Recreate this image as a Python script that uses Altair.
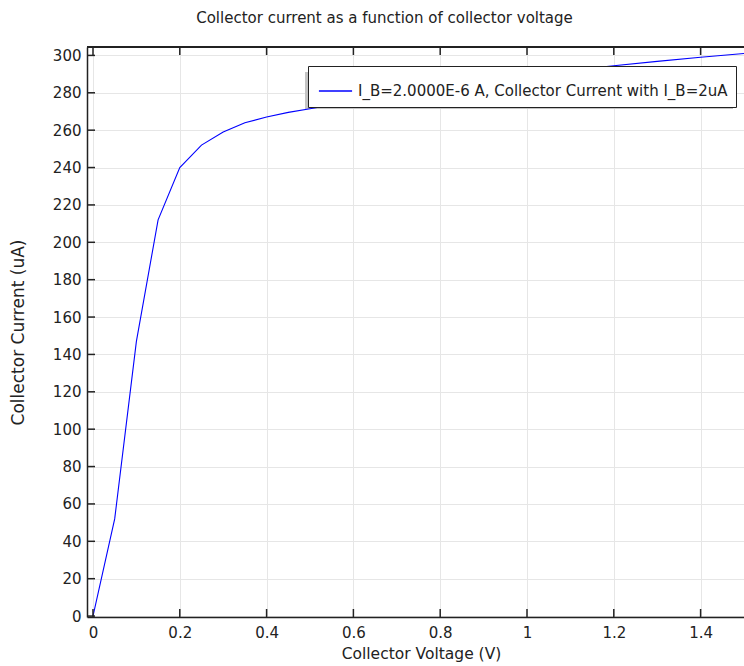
import altair as alt
import pandas as pd

# Data
voltage = [0.0, 0.05, 0.10, 0.15, 0.20, 0.25, 0.30, 0.35, 0.40, 0.45, 0.50,
           0.60, 0.70, 0.80, 0.90, 1.00, 1.10, 1.20, 1.30, 1.40, 1.50]
current = [0.0, 52.0, 147.0, 212.0, 240.0, 252.0, 259.0, 264.0, 267.0, 269.5, 271.5,
           275.5, 279.5, 283.0, 286.5, 289.5, 292.0, 294.5, 296.8, 299.0, 301.0]
series_name = "I_B=2.0000E-6 A, Collector Current with I_B=2uA"

x_ticks = [0, 0.2, 0.4, 0.6, 0.8, 1.0, 1.2, 1.4]
y_ticks = list(range(0, 301, 20))

W, H = 657, 570
FONT = "DejaVu Sans"
TXT = "#222222"

df = pd.DataFrame({"V": voltage, "I": current, "series": [series_name] * len(voltage)})
xt = pd.DataFrame({"v": x_ticks})
yt = pd.DataFrame({"v": y_ticks})

xscale = alt.Scale(domain=[-0.0138, 1.5], nice=False, zero=False)
yscale = alt.Scale(domain=[-0.5, 304.5], nice=False, zero=False)

xaxis = alt.Axis(values=x_ticks, format="~g", title="Collector Voltage (V)",
                 ticks=False, labelPadding=8, titlePadding=6, titleX=334,
                 labelOverlap=False, titleFontSize=15.5,
                 domainColor=TXT, domainWidth=1.5, grid=True, gridColor="#e6e6e6")
yaxis = alt.Axis(values=y_ticks, title="Collector Current (uA)",
                 ticks=False, labelPadding=6, titlePadding=25,
                 labelOverlap=False, titleFontSize=17,
                 domainColor=TXT, domainWidth=1.5, grid=True, gridColor="#e6e6e6")

line = alt.Chart(df).mark_line(strokeWidth=1.1, clip=True).encode(
    x=alt.X("V:Q", scale=xscale, axis=xaxis),
    y=alt.Y("I:Q", scale=yscale, axis=yaxis),
    color=alt.Color("series:N", scale=alt.Scale(range=["#0000ff"]),
                    legend=alt.Legend(title=None, orient="none", legendX=221, legendY=19,
                                      fillColor="white", strokeColor="#222222",
                                      padding=7.5, symbolOffset=2.5, symbolType="stroke",
                                      symbolSize=1100, labelLimit=1000,
                                      symbolStrokeWidth=1.5, labelFontSize=15,
                                      labelFont=FONT, labelColor=TXT, labelOffset=5)),
)

bottom_ticks = alt.Chart(xt).mark_rule(color=TXT, strokeWidth=1.5).encode(
    x=alt.X("v:Q", scale=xscale, axis=xaxis), y=alt.value(H), y2=alt.value(H - 8))
top_ticks = alt.Chart(xt).mark_rule(color=TXT, strokeWidth=1.5).encode(
    x=alt.X("v:Q", scale=xscale, axis=xaxis), y=alt.value(0), y2=alt.value(8))
left_ticks = alt.Chart(yt).mark_rule(color=TXT, strokeWidth=1.5).encode(
    y=alt.Y("v:Q", scale=yscale, axis=yaxis), x=alt.value(0), x2=alt.value(8))
top_line = alt.Chart(xt).mark_rule(color=TXT, strokeWidth=1.5).encode(
    x=alt.value(0), x2=alt.value(W), y=alt.value(0))
shadow = alt.Chart(xt).mark_rect(color="#c4c4c4").encode(
    x=alt.value(218), x2=alt.value(646), y=alt.value(25), y2=alt.value(62))

chart = alt.layer(shadow, line, bottom_ticks, top_ticks, left_ticks, top_line).properties(
    width=W, height=H,
    title=alt.TitleParams("Collector current as a function of collector voltage",
                          font=FONT, fontSize=15, fontWeight="normal", color=TXT,
                          anchor="middle", dx=-31, offset=20),
    autosize=alt.AutoSizeParams(type="none"),
    padding={"left": 87, "top": 47, "right": 0, "bottom": 49},
).configure_view(stroke=None).configure_axis(
    labelFont=FONT, titleFont=FONT, labelFontSize=15, titleFontSize=15,
    titleFontWeight="normal", labelColor=TXT, titleColor=TXT,
)

chart.save("out.html", embed_options={"renderer": "svg", "actions": False})
